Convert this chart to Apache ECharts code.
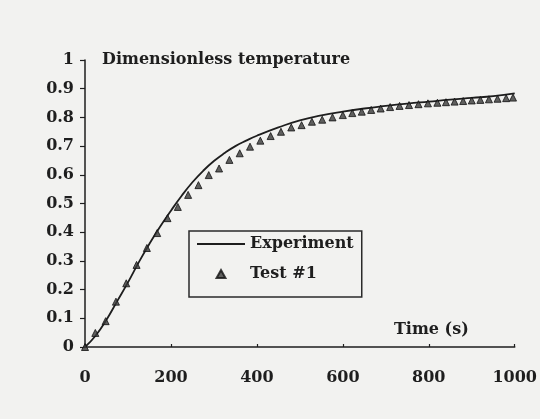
<!DOCTYPE html>
<html>
<head>
<meta charset="utf-8">
<script src="https://cdn.jsdelivr.net/npm/echarts@6/dist/echarts.min.js"></script>
<style>html,body{margin:0;padding:0;background:#f2f2f0;}#c{width:540px;height:419px;}</style>
</head>
<body>
<div id="c"></div>
<script>
// ---- data ----
const expTime = [0, 25, 50, 75, 100, 125, 150, 175, 200, 225, 250, 275, 300, 325, 350, 375, 400, 450, 500, 550, 600, 650, 700, 750, 800, 850, 900, 950, 1000];
const expValue = [0, 0.04, 0.095, 0.16, 0.225, 0.295, 0.36, 0.42, 0.475, 0.527, 0.574, 0.614, 0.648, 0.676, 0.7, 0.719, 0.736, 0.765, 0.79, 0.807, 0.82, 0.831, 0.84, 0.848, 0.855, 0.862, 0.868, 0.874, 0.884];
const testTime = [0, 24, 48, 72, 96, 120, 144, 168, 192, 216, 240, 264, 288, 312, 336, 360, 384, 408, 432, 456, 480, 504, 528, 552, 576, 600, 622, 644, 666, 688, 710, 732, 754, 776, 798, 820, 840, 860, 880, 900, 920, 940, 960, 980, 996];
const testValue = [0, 0.049, 0.09, 0.158, 0.222, 0.286, 0.345, 0.397, 0.449, 0.488, 0.53, 0.564, 0.599, 0.622, 0.652, 0.675, 0.698, 0.719, 0.735, 0.75, 0.765, 0.773, 0.785, 0.792, 0.8, 0.808, 0.815, 0.82, 0.826, 0.831, 0.836, 0.84, 0.843, 0.846, 0.849, 0.851, 0.853, 0.855, 0.857, 0.859, 0.861, 0.863, 0.865, 0.867, 0.869];
const xTickLabels = ['0', '200', '400', '600', '800', '1000'];
const yTickLabels = ['0', '0.1', '0.2', '0.3', '0.4', '0.5', '0.6', '0.7', '0.8', '0.9', '1'];
const seriesNames = ['Experiment', 'Test #1'];
const axisNames = ['Time (s)', 'Dimensionless temperature'];

const FONT = 'DejaVu Serif';
const INK = '#1e1e1e';
const chart = echarts.init(document.getElementById('c'), null, {renderer: 'canvas'});
const zip = (a, b) => a.map((v, i) => [v, b[i]]);

chart.setOption({
  backgroundColor: '#f2f2f0',
  animation: false,
  grid: {left: 85, right: 24, top: 60, bottom: 72, containLabel: false},
  xAxis: {
    type: 'value', min: 0, max: 1000, interval: 200,
    name: axisNames[0], nameLocation: 'end', nameGap: -46,
    nameTextStyle: {fontFamily: FONT, fontWeight: 'bold', fontSize: 16, color: INK, align: 'right', verticalAlign: 'bottom', padding: [0, 0, 9, 0]},
    axisLine: {lineStyle: {color: INK, width: 1.5}},
    axisTick: {inside: true, length: 3, lineStyle: {color: INK, width: 1.2}},
    axisLabel: {margin: 23, fontFamily: FONT, fontWeight: 'bold', fontSize: 16, color: INK,
      formatter: v => xTickLabels[Math.round(v / 200)]},
    splitLine: {show: false}
  },
  yAxis: {
    type: 'value', min: 0, max: 1, interval: 0.1,
    name: axisNames[1], nameLocation: 'end', nameGap: 0,
    nameTextStyle: {fontFamily: FONT, fontWeight: 'bold', fontSize: 16, color: INK, align: 'left', verticalAlign: 'middle', padding: [0, 0, 0, 17]},
    axisLine: {show: true, lineStyle: {color: INK, width: 1.5}},
    axisTick: {show: true, length: 5, lineStyle: {color: INK, width: 1.2}},
    axisLabel: {margin: 11, fontFamily: FONT, fontWeight: 'bold', fontSize: 16, color: INK,
      formatter: v => yTickLabels[Math.round(v * 10)]},
    splitLine: {show: false}
  },
  legend: {
    orient: 'vertical', left: 189, top: 231,
    data: [
      {name: seriesNames[0], icon: 'path://M0,0L100,0L100,4L0,4Z'},
      {name: seriesNames[1], icon: 'path://M5,0L10,9L0,9Z'}
    ],
    itemWidth: 48, itemHeight: 8, itemGap: 14,
    padding: [5, 8, 15, 8],
    borderColor: '#2a2a2a', borderWidth: 1.5,
    backgroundColor: 'rgba(0,0,0,0)',
    textStyle: {fontFamily: FONT, fontWeight: 'bold', fontSize: 16, color: INK}
  },
  series: [
    {
      name: seriesNames[0], type: 'line', smooth: true, showSymbol: false, symbol: 'none',
      data: zip(expTime, expValue),
      lineStyle: {color: INK, width: 1.8}, itemStyle: {color: INK}, z: 2
    },
    {
      name: seriesNames[1], type: 'scatter', symbol: 'triangle', symbolSize: 7,
      data: zip(testTime, testValue),
      itemStyle: {color: '#3a3a3a', borderColor: '#111', borderWidth: 1}, z: 3
    }
  ]
});
</script>
</body>
</html>
